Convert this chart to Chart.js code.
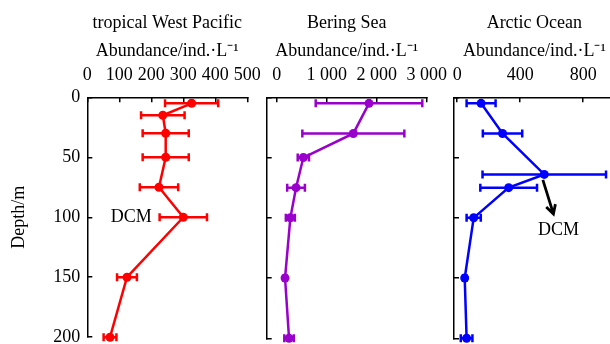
<!DOCTYPE html>
<html>
<head>
<meta charset="utf-8">
<script src="https://cdn.jsdelivr.net/npm/chart.js@4.4.0/dist/chart.umd.min.js"></script>
<style>
  html, body { margin: 0; padding: 0; background: #fff; overflow: hidden; width: 610px; height: 344px; }
  canvas { position: absolute; left: 0; top: 0; }
</style>
</head>
<body>
<canvas id="pacific" width="640" height="360"></canvas>
<canvas id="bering" width="640" height="360"></canvas>
<canvas id="arctic" width="640" height="360"></canvas>
<script>
// =========================================================
// DATA
// =========================================================
const pacificDepth = [5, 15, 30, 50, 75, 100, 150, 200];
const pacificValue = [326, 236, 245, 245, 224, 300, 124, 71];
const pacificError = [83, 68, 72, 72, 60, 74, 31, 20];

const beringDepth = [5, 30, 50, 75, 100, 150, 200];
const beringValue = [1846, 1533, 533, 387, 273, 167, 247];
const beringError = [1066, 1020, 113, 177, 90, 25, 95];

const arcticDepth = [5, 30, 64, 75, 100, 150, 200];
const arcticValue = [152, 288, 553, 327, 105, 48, 60];
const arcticError = [92, 125, 392, 180, 45, 10, 37];

const depthTicks = [0, 50, 100, 150, 200];
const pacificTicks = [0, 100, 200, 300, 400, 500];
const beringTicks = [0, 1000, 2000, 3000];
const arcticTicks = [0, 400, 800];

const unitLabel = "Abundance/ind.\u00b7L\u207b\u00b9";

// =========================================================
// LOOK
// =========================================================
const FONT = "'Liberation Serif', 'Times New Roman', serif";
const CANVAS_W = 640;
const CANVAS_H = 360;
const AXIS_TOP = 97.3;
const AXIS_BOTTOM = 338.3;

// horizontal error bars, drawn through the chart scales
const errorBars = {
  id: "errorBars",
  beforeDatasetsDraw(chart) {
    const { ctx } = chart;
    const xs = chart.scales.x, ys = chart.scales.y;
    chart.data.datasets.forEach(ds => {
      ctx.save();
      ctx.strokeStyle = ds.borderColor;
      ctx.lineWidth = 2.5;
      ds.data.forEach((p, i) => {
        const e = ds.xErr[i];
        const y = ys.getPixelForValue(p.y);
        const x1 = xs.getPixelForValue(p.x - e);
        const x2 = xs.getPixelForValue(p.x + e);
        ctx.beginPath();
        ctx.moveTo(x1, y); ctx.lineTo(x2, y);
        ctx.moveTo(x1, y - 4); ctx.lineTo(x1, y + 4);
        ctx.moveTo(x2, y - 4); ctx.lineTo(x2, y + 4);
        ctx.stroke();
      });
      ctx.restore();
    });
  }
};

// "DCM" label (and optional arrow)
const dcmLabel = {
  id: "dcm",
  afterDatasetsDraw(chart, args, opts) {
    if (!opts || !opts.text) return;
    const { ctx } = chart;
    const xs = chart.scales.x, ys = chart.scales.y;
    ctx.save();
    ctx.fillStyle = "#000";
    ctx.strokeStyle = "#000";
    ctx.font = "18px " + FONT;
    ctx.textAlign = "center";
    ctx.textBaseline = "middle";
    ctx.fillText("DCM", xs.getPixelForValue(opts.text[0]), ys.getPixelForValue(opts.text[1]));

    if (opts.arrow) {
      const [a, b, c, d] = opts.arrow;
      const x0 = xs.getPixelForValue(a), y0 = ys.getPixelForValue(b);
      const x1 = xs.getPixelForValue(c), y1 = ys.getPixelForValue(d);
      const ang = Math.atan2(y1 - y0, x1 - x0);
      const head = 10;
      ctx.lineWidth = 2.8;
      ctx.beginPath();
      ctx.moveTo(x0, y0); ctx.lineTo(x1, y1);
      ctx.moveTo(x1 - head * Math.cos(ang - 0.5), y1 - head * Math.sin(ang - 0.5));
      ctx.lineTo(x1, y1);
      ctx.lineTo(x1 - head * Math.cos(ang + 0.5), y1 - head * Math.sin(ang + 0.5));
      ctx.stroke();
    }
    ctx.restore();
  }
};

function spaced(v) {
  return String(v).replace(/\B(?=(\d{3})+$)/g, " ");
}

// =========================================================
// PANEL FACTORY
// =========================================================
function makePanel(id, cfg) {
  const font = { family: FONT, size: 18 };
  const points = cfg.depth.map((d, i) => ({ x: cfg.values[i], y: d }));

  return new Chart(document.getElementById(id), {
    type: "scatter",
    data: {
      datasets: [{
        data: points,
        xErr: cfg.errors,
        showLine: true,
        borderColor: cfg.color,
        backgroundColor: cfg.color,
        borderWidth: 2.5,
        pointRadius: 4.5,
        pointBorderWidth: 0,
        clip: false
      }]
    },
    options: {
      responsive: false,
      animation: false,
      events: [],
      layout: {
        padding: { left: cfg.left, right: CANVAS_W - cfg.right, top: 0, bottom: CANVAS_H - AXIS_BOTTOM }
      },
      plugins: {
        legend: { display: false },
        tooltip: { enabled: false },
        dcm: cfg.dcm || {}
      },
      scales: {
        x: {
          type: "linear",
          position: "top",
          min: cfg.min,
          max: cfg.max,
          afterBuildTicks: s => { s.ticks = cfg.ticks.map(v => ({ value: v })); },
          afterFit: s => { s.height = AXIS_TOP; },
          ticks: { color: "#000", font, padding: 16, maxRotation: 0, autoSkip: false, callback: v => spaced(v) },
          grid: { drawOnChartArea: false, tickLength: -5, color: "#000", lineWidth: 1.5 },
          border: { color: "#000", width: 1.5 },
          title: {
            display: true,
            text: [cfg.name, unitLabel],
            color: "#000",
            font: { family: FONT, size: 18, lineHeight: 1.556 },
            padding: { top: 9, bottom: 0 }
          }
        },
        y: {
          type: "linear",
          reverse: true,
          min: 0,
          max: 200,
          afterBuildTicks: s => { s.ticks = depthTicks.map(v => ({ value: v })); },
          afterFit: s => { s.width = cfg.yWidth; },
          ticks: { display: cfg.showY, color: "#000", font, padding: 12 },
          grid: { drawOnChartArea: false, tickLength: -5, color: "#000", lineWidth: 1.5 },
          border: { color: "#000", width: 1.5 },
          title: {
            display: cfg.showY,
            text: "Depth/m",
            color: "#000",
            font,
            padding: { top: 8, bottom: 0 }
          }
        }
      }
    },
    plugins: [errorBars, dcmLabel]
  });
}

// =========================================================
// INIT
// =========================================================
makePanel("pacific", {
  name: "tropical West Pacific",
  depth: pacificDepth, values: pacificValue, errors: pacificError,
  color: "#ff0000",
  min: 0, max: 500, ticks: pacificTicks,
  left: 0, yWidth: 87.3, right: 247.3, showY: true,
  dcm: { text: [137, 100] }
});

makePanel("bering", {
  name: "Bering Sea",
  depth: beringDepth, values: beringValue, errors: beringError,
  color: "#9900cc",
  min: -200, max: 3000, ticks: beringTicks,
  left: 266.7, yWidth: 0, right: 426.7, showY: false
});

makePanel("arctic", {
  name: "Arctic Ocean",
  depth: arcticDepth, values: arcticValue, errors: arcticError,
  color: "#0000ff",
  min: -20, max: 1000, ticks: arcticTicks,
  left: 454, yWidth: 0, right: 614.7, showY: false,
  dcm: { text: [643, 110], arrow: [544, 68.5, 611, 96.8] }
});
</script>
</body>
</html>
